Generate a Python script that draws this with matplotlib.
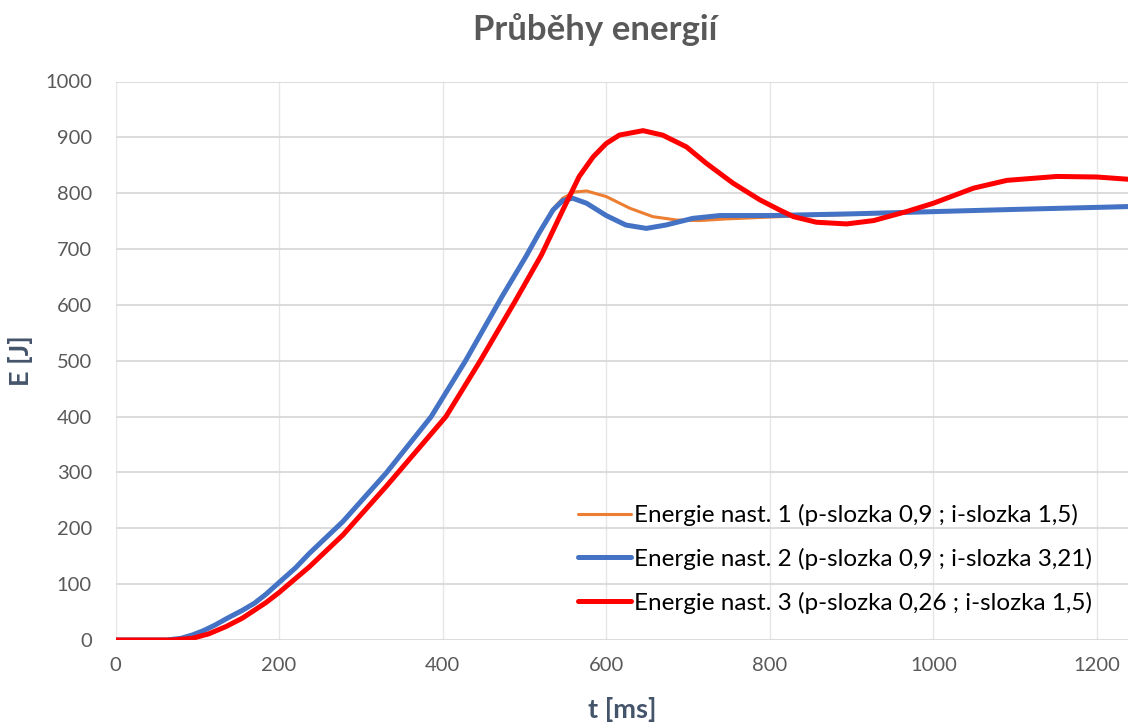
import matplotlib
matplotlib.use("Agg")
import matplotlib.pyplot as plt

# ---- data ----
t_series1 = [0, 40, 63, 80, 94, 108, 122, 138, 155, 170, 184, 200, 220, 237, 278, 331, 386, 428, 473,
             502, 518, 535, 547, 561, 576, 600, 629, 657, 686, 714, 747, 812, 900, 1000, 1100, 1238]
e_series1 = [0, 0, 0, 3, 9, 17, 27, 40, 53, 66, 82, 103, 129, 155, 212, 299, 400, 500, 616,
             687, 729, 772, 791, 802, 804, 794, 773, 758, 752, 751, 754, 758, 762, 767, 771, 777]

t_series2 = [0, 40, 63, 80, 94, 108, 122, 138, 155, 170, 184, 200, 220, 237, 278, 331, 386, 428, 473,
             502, 518, 535, 547, 559, 576, 600, 624, 649, 673, 706, 739, 800, 900, 1000, 1100, 1238]
e_series2 = [0, 0, 0, 3, 9, 17, 27, 40, 53, 66, 82, 103, 129, 155, 212, 299, 400, 500, 616,
             687, 729, 770, 787, 791, 782, 760, 743, 737, 743, 755, 760, 760, 763, 767, 771, 776]

t_series3 = [0, 40, 69, 94, 114, 135, 155, 184, 200, 212, 237, 278, 331, 404, 446, 488, 521, 547, 567,
             584, 600, 616, 645, 669, 698, 722, 755, 788, 812, 829, 857, 894, 927, 967, 1000, 1049,
             1090, 1151, 1200, 1238]
e_series3 = [0, 0, 0, 3, 11, 24, 39, 67, 85, 100, 131, 188, 275, 400, 500, 605, 690, 770, 830,
             865, 889, 904, 912, 904, 883, 854, 818, 788, 770, 758, 748, 745, 751, 767, 782, 809,
             823, 830, 829, 825]

labels = ["Energie nast. 1 (p-slozka 0,9 ; i-slozka 1,5)",
          "Energie nast. 2 (p-slozka 0,9 ; i-slozka 3,21)",
          "Energie nast. 3 (p-slozka 0,26 ; i-slozka 1,5)"]
colors = ["#ED7D31", "#4472C4", "#FF0000"]
title = "Průběhy energií"
xlabel = "t [ms]"
ylabel = "E [J]"
x_ticks = [0, 200, 400, 600, 800, 1000, 1200]
y_ticks = [0, 100, 200, 300, 400, 500, 600, 700, 800, 900, 1000]

plt.rcParams['font.family'] = ['Lato', 'DejaVu Sans']

fig = plt.figure(figsize=(11.28, 7.24), dpi=100)
ax = fig.add_axes([115.5 / 1128, (724 - 640) / 724, 1 - 115.5 / 1128, (640 - 81.5) / 724])

kw = dict(solid_capstyle='round', solid_joinstyle='round')
ax.plot(t_series1, e_series1, color=colors[0], lw=2.2, label=labels[0], zorder=3, **kw)
ax.plot(t_series2, e_series2, color=colors[1], lw=3.6, label=labels[1], zorder=4, **kw)
ax.plot(t_series3, e_series3, color=colors[2], lw=3.6, label=labels[2], zorder=5, **kw)

ax.set_xlim(0, 1238)
ax.set_ylim(0, 1000)
ax.set_xticks(x_ticks)
ax.set_yticks(y_ticks)
for s in ax.spines.values():
    s.set_visible(False)
ax.tick_params(length=0, labelsize=14.5, labelcolor="#595959")
ax.tick_params(axis='x', pad=12)
ax.tick_params(axis='y', pad=17)
ax.yaxis.grid(True, color="#d9d9d9", lw=1.3)
ax.xaxis.grid(True, color="#e6e6e6", lw=1.0)
ax.set_axisbelow(True)

ax.set_xlabel(xlabel, fontsize=19.5, fontweight='bold', color="#44546A", labelpad=17)
ax.set_ylabel(ylabel, fontsize=19.5, fontweight='bold', color="#44546A")
ax.yaxis.set_label_coords((33 - 115.5) / 1012.5, 0.5)
fig.text(595 / 1128, 1 - 30 / 724, title, fontsize=25, fontweight='bold',
         color="#595959", ha='center', va='center')

leg = ax.legend(loc='upper left', bbox_to_anchor=(578 / 1128, 1 - 504 / 724),
                bbox_transform=fig.transFigure, frameon=False, fontsize=17.5,
                handlelength=2.2, handletextpad=0.12, labelspacing=0.89, borderpad=0,
                borderaxespad=0)
for txt in leg.get_texts():
    txt.set_color("#000000")

fig.savefig("out.png", dpi=100)
